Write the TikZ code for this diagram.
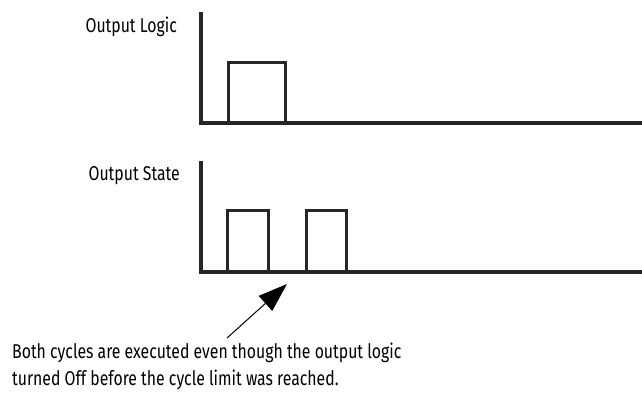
\documentclass[tikz,border=0pt]{standalone}
\usepackage{fontspec}
\setmainfont{Fira Sans}[FakeStretch=0.79]
\usetikzlibrary{arrows.meta}
\begin{document}
\begin{tikzpicture}[x=1pt,y=-1pt,
  axis/.style={line width=3.2pt, line cap=butt, line join=miter, color=black!85},
  pulse/.style={line width=3pt, line join=miter, color=black!85},
  lbl/.style={inner sep=0pt, font=\fontsize{20}{27}\selectfont},
  callout/.style={line width=1pt, -{Triangle[length=29pt,width=20pt]}}]
\useasboundingbox (0,0) rectangle (642,392);
% top graph
\draw[axis] (201,12) -- (201,123) -- (643,123);
\draw[pulse] (228,123) -- (228,62) -- (285,62) -- (285,123);
\node[lbl, anchor=base east] (logic) at (177,32) {Output Logic};
% bottom graph
\draw[axis] (201,161) -- (201,272) -- (643,272);
\draw[pulse] (227,272) -- (227,210) -- (268,210) -- (268,272);
\draw[pulse] (306,272) -- (306,210) -- (346,210) -- (346,272);
\node[lbl, anchor=base east] (state) at (180,180) {Output State};
% caption
\node[lbl, anchor=base west, align=left] (cap) at (12,385)
  {Both cycles are executed even though the output logic\\turned Off before the cycle limit was reached.};
\coordinate (tail) at (227,338);
\coordinate (tip) at (287,284);
\draw[callout] (tail) -- (tip);
\end{tikzpicture}
\end{document}
